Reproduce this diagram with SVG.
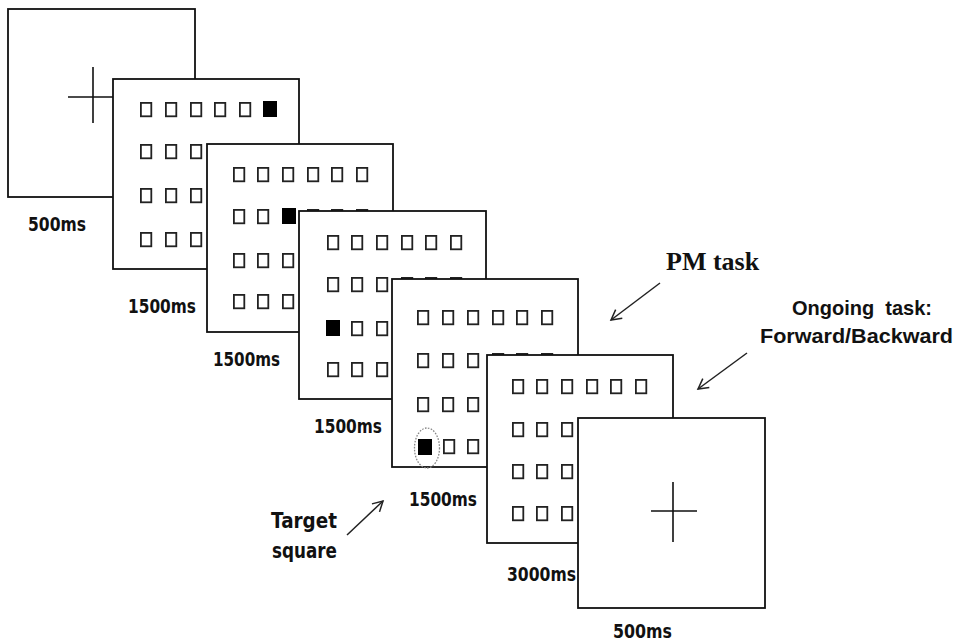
<svg xmlns="http://www.w3.org/2000/svg" xmlns:xlink="http://www.w3.org/1999/xlink" width="957" height="643" viewBox="0 0 957 643">
<style>
.frame{fill:#fff;stroke:#111;stroke-width:1.8}
.cross{stroke:#111;stroke-width:1.6;fill:none}
.sq{fill:#fff;stroke:#222;stroke-width:1.8}
.bk{fill:#000;stroke:none}
.time{font-family:"DejaVu Sans","Liberation Sans",sans-serif;font-weight:bold;font-size:19px;fill:#111}
.lab{font-family:"DejaVu Sans","Liberation Sans",sans-serif;font-weight:bold;font-size:22px;fill:#111}
.lab2{font-family:"Liberation Sans",Arial,sans-serif;font-weight:bold;font-size:20.5px;fill:#111}
.pm{font-family:"Liberation Serif","Times New Roman",serif;font-weight:bold;font-size:26px;fill:#111}
.arrow{stroke:#222;stroke-width:1.5;fill:none}
.oval{fill:none;stroke:#888;stroke-width:1.3;stroke-dasharray:1.6 1.4}
</style>
<defs>
<rect id="s" class="sq" x="0.9" y="0.9" width="10.4" height="13.4"/>
<rect id="b" class="bk" x="0" y="0" width="14" height="16"/>
<marker id="ah" markerWidth="14" markerHeight="14" refX="12" refY="7" orient="auto" markerUnits="userSpaceOnUse">
<path d="M2,1.5 L12,7 L2,12.5" fill="none" stroke="#222" stroke-width="1.5"/>
</marker>
</defs>

<g id="frame1">
<rect class="frame" x="8" y="9" width="187" height="188"/>
<path class="cross" d="M68,97 H118 M93,67 V123"/>
<text class="time" x="28" y="231" textLength="58" lengthAdjust="spacingAndGlyphs">500ms</text>
</g>

<g id="frame2">
<rect class="frame" x="113" y="79" width="186" height="190"/>
<use href="#s" x="140" y="102"/><use href="#s" x="165" y="102"/><use href="#s" x="190" y="102"/><use href="#s" x="214" y="102"/><use href="#s" x="239" y="102"/><use href="#b" x="263" y="101"/>
<use href="#s" x="140" y="144"/><use href="#s" x="165" y="144"/><use href="#s" x="190" y="144"/><use href="#s" x="214" y="144"/><use href="#s" x="239" y="144"/><use href="#s" x="263" y="144"/>
<use href="#s" x="140" y="188"/><use href="#s" x="165" y="188"/><use href="#s" x="190" y="188"/><use href="#s" x="214" y="188"/><use href="#s" x="239" y="188"/><use href="#s" x="263" y="188"/>
<use href="#s" x="140" y="232"/><use href="#s" x="165" y="232"/><use href="#s" x="190" y="232"/><use href="#s" x="214" y="232"/><use href="#s" x="239" y="232"/><use href="#s" x="263" y="232"/>
<text class="time" x="128" y="313" textLength="68" lengthAdjust="spacingAndGlyphs">1500ms</text>
</g>

<g id="frame3">
<rect class="frame" x="207" y="144" width="186" height="188"/>
<use href="#s" x="233" y="167"/><use href="#s" x="257" y="167"/><use href="#s" x="282" y="167"/><use href="#s" x="307" y="167"/><use href="#s" x="331" y="167"/><use href="#s" x="356" y="167"/>
<use href="#s" x="233" y="209"/><use href="#s" x="257" y="209"/><use href="#b" x="282" y="208"/><use href="#s" x="307" y="209"/><use href="#s" x="331" y="209"/><use href="#s" x="356" y="209"/>
<use href="#s" x="233" y="253"/><use href="#s" x="257" y="253"/><use href="#s" x="282" y="253"/><use href="#s" x="307" y="253"/><use href="#s" x="331" y="253"/><use href="#s" x="356" y="253"/>
<use href="#s" x="233" y="294"/><use href="#s" x="257" y="294"/><use href="#s" x="282" y="294"/><use href="#s" x="307" y="294"/><use href="#s" x="331" y="294"/><use href="#s" x="356" y="294"/>
<text class="time" x="213" y="366" textLength="67" lengthAdjust="spacingAndGlyphs">1500ms</text>
</g>

<g id="frame4">
<rect class="frame" x="299" y="211" width="187" height="188"/>
<use href="#s" x="327" y="235"/><use href="#s" x="351" y="235"/><use href="#s" x="376" y="235"/><use href="#s" x="401" y="235"/><use href="#s" x="425" y="235"/><use href="#s" x="450" y="235"/>
<use href="#s" x="327" y="277"/><use href="#s" x="351" y="277"/><use href="#s" x="376" y="277"/><use href="#s" x="401" y="277"/><use href="#s" x="425" y="277"/><use href="#s" x="450" y="277"/>
<use href="#b" x="326" y="320"/><use href="#s" x="351" y="321"/><use href="#s" x="376" y="321"/><use href="#s" x="401" y="321"/><use href="#s" x="425" y="321"/><use href="#s" x="450" y="321"/>
<use href="#s" x="327" y="362"/><use href="#s" x="351" y="362"/><use href="#s" x="376" y="362"/><use href="#s" x="401" y="362"/><use href="#s" x="425" y="362"/><use href="#s" x="450" y="362"/>
<text class="time" x="314" y="433" textLength="68" lengthAdjust="spacingAndGlyphs">1500ms</text>
</g>

<g id="frame5">
<rect class="frame" x="392" y="279" width="186" height="188"/>
<use href="#s" x="417" y="310"/><use href="#s" x="442" y="310"/><use href="#s" x="467" y="310"/><use href="#s" x="492" y="310"/><use href="#s" x="516" y="310"/><use href="#s" x="541" y="310"/>
<use href="#s" x="417" y="353"/><use href="#s" x="442" y="353"/><use href="#s" x="467" y="353"/><use href="#s" x="492" y="353"/><use href="#s" x="516" y="353"/><use href="#s" x="541" y="353"/>
<use href="#s" x="417" y="397"/><use href="#s" x="442" y="397"/><use href="#s" x="467" y="397"/><use href="#s" x="492" y="397"/><use href="#s" x="516" y="397"/><use href="#s" x="541" y="397"/>
<use href="#b" x="418" y="439"/><use href="#s" x="443" y="439"/><use href="#s" x="467" y="439"/><use href="#s" x="492" y="439"/><use href="#s" x="516" y="439"/><use href="#s" x="541" y="439"/>
<ellipse class="oval" cx="427" cy="448" rx="12.5" ry="20"/>
<text class="time" x="409" y="506" textLength="68" lengthAdjust="spacingAndGlyphs">1500ms</text>
</g>

<g id="frame6">
<rect class="frame" x="487" y="355" width="186" height="188"/>
<use href="#s" x="512" y="379"/><use href="#s" x="536" y="379"/><use href="#s" x="561" y="379"/><use href="#s" x="586" y="379"/><use href="#s" x="610" y="379"/><use href="#s" x="635" y="379"/>
<use href="#s" x="512" y="422"/><use href="#s" x="536" y="422"/><use href="#s" x="561" y="422"/><use href="#s" x="586" y="422"/><use href="#s" x="610" y="422"/><use href="#s" x="635" y="422"/>
<use href="#s" x="512" y="464"/><use href="#s" x="536" y="464"/><use href="#s" x="561" y="464"/><use href="#s" x="586" y="464"/><use href="#s" x="610" y="464"/><use href="#s" x="635" y="464"/>
<use href="#s" x="512" y="506"/><use href="#s" x="536" y="506"/><use href="#s" x="561" y="506"/><use href="#s" x="586" y="506"/><use href="#s" x="610" y="506"/><use href="#s" x="635" y="506"/>
<text class="time" x="507" y="581" textLength="69" lengthAdjust="spacingAndGlyphs">3000ms</text>
</g>

<g id="frame7">
<rect class="frame" x="578" y="418" width="187" height="190"/>
<path class="cross" d="M651,511 H697 M673,482 V542"/>
<text class="time" x="613" y="638" textLength="59" lengthAdjust="spacingAndGlyphs">500ms</text>
</g>

<g id="pm-label">
<text class="pm" x="666" y="270">PM task</text>
</g>
<g id="ongoing-label">
<text class="lab2" x="792" y="315" textLength="140" lengthAdjust="spacingAndGlyphs" xml:space="preserve">Ongoing  task:</text>
<text class="lab2" x="760" y="343" textLength="193" lengthAdjust="spacingAndGlyphs">Forward/Backward</text>
</g>
<g id="target-label">
<text class="lab" x="271" y="528" textLength="66" lengthAdjust="spacingAndGlyphs">Target</text>
<text class="lab" x="272" y="558" textLength="65" lengthAdjust="spacingAndGlyphs">square</text>
</g>

<g id="connectors">
<line class="arrow" x1="660" y1="283" x2="611" y2="320" marker-end="url(#ah)"/>
<line class="arrow" x1="747" y1="353" x2="698" y2="389" marker-end="url(#ah)"/>
<line class="arrow" x1="347" y1="535" x2="383" y2="501" marker-end="url(#ah)"/>
</g>
</svg>
